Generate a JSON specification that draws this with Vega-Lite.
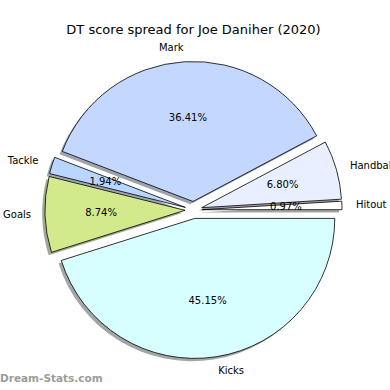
{
  "$schema": "https://vega.github.io/schema/vega-lite/v6.json",
  "autosize": "none",
  "width": 387,
  "height": 360,
  "padding": {"left": 0, "top": 30, "right": 3, "bottom": 0},
  "title": {"text": "DT score spread for Joe Daniher (2020)", "fontSize": 13, "fontWeight": "normal", "font": "DejaVu Sans", "color": "#000000", "offset": -7},
  "config": {"view": {"stroke": null}, "text": {"font": "DejaVu Sans"}},
  "datasets": {
    "slices": [
      {"idx": 1, "cat": "Kicks", "share": 0.4515},
      {"idx": 2, "cat": "Goals", "share": 0.0874},
      {"idx": 3, "cat": "Tackle", "share": 0.0194},
      {"idx": 4, "cat": "Mark", "share": 0.3641},
      {"idx": 5, "cat": "Handball", "share": 0.0680},
      {"idx": 6, "cat": "Hitout", "share": 0.0097}
    ],
    "mark": [{"t": "Dream-Stats.com"}]
  },
  "data": {"name": "slices"},
  "encoding": {
    "theta": {"field": "share", "type": "quantitative", "stack": true, "scale": {"range": [1.5707963, 7.8539816]}},
    "order": {"field": "idx", "type": "quantitative"}
  },
  "layer": [
    {"mark": {"type": "arc", "radius": 140, "xOffset": -1.5, "yOffset": 11.2, "fill": "#a2a6a6", "strokeWidth": 0}, "encoding": {"opacity": {"condition": {"test": "datum.cat === 'Kicks'", "value": 1}, "value": 0}}},
    {"mark": {"type": "arc", "radius": 140, "xOffset": -11.3, "yOffset": 3.1, "fill": "#a2a892", "strokeWidth": 0}, "encoding": {"opacity": {"condition": {"test": "datum.cat === 'Goals'", "value": 1}, "value": 0}}},
    {"mark": {"type": "arc", "radius": 140, "xOffset": -10.9, "yOffset": 0.2, "fill": "#9ca4ae", "strokeWidth": 0}, "encoding": {"opacity": {"condition": {"test": "datum.cat === 'Tackle'", "value": 1}, "value": 0}}},
    {"mark": {"type": "arc", "radius": 140, "xOffset": -3.3, "yOffset": -5.7, "fill": "#9ea4ae", "strokeWidth": 0}, "encoding": {"opacity": {"condition": {"test": "datum.cat === 'Mark'", "value": 1}, "value": 0}}},
    {"mark": {"type": "arc", "radius": 140, "xOffset": 5.4, "yOffset": 0.5, "fill": "#a4a6ac", "strokeWidth": 0}, "encoding": {"opacity": {"condition": {"test": "datum.cat === 'Handball'", "value": 1}, "value": 0}}},
    {"mark": {"type": "arc", "radius": 140, "xOffset": 5.7, "yOffset": 2.5, "fill": "#a6a6a6", "strokeWidth": 0}, "encoding": {"opacity": {"condition": {"test": "datum.cat === 'Hitout'", "value": 1}, "value": 0}}},

    {"mark": {"type": "arc", "radius": 140, "xOffset": 1.3, "yOffset": 8.4, "stroke": "#000000", "strokeWidth": 0.8}, "encoding": {"fill": {"field": "cat", "type": "nominal", "legend": null, "scale": {"domain": ["Kicks", "Goals", "Tackle", "Mark", "Handball", "Hitout"], "range": ["#d8ffff", "#d2ea8c", "#b8d6ff", "#c4d8ff", "#e8f0ff", "#ffffff"]}}, "opacity": {"condition": {"test": "datum.cat === 'Kicks'", "value": 1}, "value": 0}}},
    {"mark": {"type": "arc", "radius": 140, "xOffset": -8.5, "yOffset": 0.3, "stroke": "#000000", "strokeWidth": 0.8}, "encoding": {"fill": {"field": "cat", "type": "nominal", "legend": null}, "opacity": {"condition": {"test": "datum.cat === 'Goals'", "value": 1}, "value": 0}}},
    {"mark": {"type": "arc", "radius": 140, "xOffset": -8.1, "yOffset": -2.6, "stroke": "#000000", "strokeWidth": 0.8}, "encoding": {"fill": {"field": "cat", "type": "nominal", "legend": null}, "opacity": {"condition": {"test": "datum.cat === 'Tackle'", "value": 1}, "value": 0}}},
    {"mark": {"type": "arc", "radius": 140, "xOffset": -0.5, "yOffset": -8.5, "stroke": "#000000", "strokeWidth": 0.8}, "encoding": {"fill": {"field": "cat", "type": "nominal", "legend": null}, "opacity": {"condition": {"test": "datum.cat === 'Mark'", "value": 1}, "value": 0}}},
    {"mark": {"type": "arc", "radius": 140, "xOffset": 8.2, "yOffset": -2.3, "stroke": "#000000", "strokeWidth": 0.8}, "encoding": {"fill": {"field": "cat", "type": "nominal", "legend": null}, "opacity": {"condition": {"test": "datum.cat === 'Handball'", "value": 1}, "value": 0}}},
    {"mark": {"type": "arc", "radius": 140, "xOffset": 8.5, "yOffset": -0.3, "stroke": "#000000", "strokeWidth": 0.8}, "encoding": {"fill": {"field": "cat", "type": "nominal", "legend": null}, "opacity": {"condition": {"test": "datum.cat === 'Hitout'", "value": 1}, "value": 0}}},

    {"mark": {"type": "text", "radius": 84, "xOffset": 1.3, "yOffset": 8.4, "fontSize": 10, "color": "#000000", "baseline": "middle", "align": "center"}, "encoding": {"text": {"condition": {"test": "datum.cat === 'Kicks'", "field": "share", "format": ".2%"}, "value": ""}}},
    {"mark": {"type": "text", "radius": 84, "xOffset": -8.5, "yOffset": 0.3, "fontSize": 10, "color": "#000000", "baseline": "middle", "align": "center"}, "encoding": {"text": {"condition": {"test": "datum.cat === 'Goals'", "field": "share", "format": ".2%"}, "value": ""}}},
    {"mark": {"type": "text", "radius": 84, "xOffset": -8.1, "yOffset": -2.6, "fontSize": 10, "color": "#000000", "baseline": "middle", "align": "center"}, "encoding": {"text": {"condition": {"test": "datum.cat === 'Tackle'", "field": "share", "format": ".2%"}, "value": ""}}},
    {"mark": {"type": "text", "radius": 84, "xOffset": -0.5, "yOffset": -8.5, "fontSize": 10, "color": "#000000", "baseline": "middle", "align": "center"}, "encoding": {"text": {"condition": {"test": "datum.cat === 'Mark'", "field": "share", "format": ".2%"}, "value": ""}}},
    {"mark": {"type": "text", "radius": 84, "xOffset": 8.2, "yOffset": -2.3, "fontSize": 10, "color": "#000000", "baseline": "middle", "align": "center"}, "encoding": {"text": {"condition": {"test": "datum.cat === 'Handball'", "field": "share", "format": ".2%"}, "value": ""}}},
    {"mark": {"type": "text", "radius": 84, "xOffset": 8.5, "yOffset": -0.3, "fontSize": 10, "color": "#000000", "baseline": "middle", "align": "center"}, "encoding": {"text": {"condition": {"test": "datum.cat === 'Hitout'", "field": "share", "format": ".2%"}, "value": ""}}},

    {"mark": {"type": "text", "radius": 154, "xOffset": 1.3, "yOffset": 8.4, "fontSize": 10, "color": "#000000", "baseline": "middle", "align": "left"}, "encoding": {"text": {"condition": {"test": "datum.cat === 'Kicks'", "field": "cat"}, "value": ""}}},
    {"mark": {"type": "text", "radius": 154, "xOffset": -8.5, "yOffset": 0.3, "fontSize": 10, "color": "#000000", "baseline": "middle", "align": "right"}, "encoding": {"text": {"condition": {"test": "datum.cat === 'Goals'", "field": "cat"}, "value": ""}}},
    {"mark": {"type": "text", "radius": 154, "xOffset": -8.1, "yOffset": -2.6, "fontSize": 10, "color": "#000000", "baseline": "middle", "align": "right"}, "encoding": {"text": {"condition": {"test": "datum.cat === 'Tackle'", "field": "cat"}, "value": ""}}},
    {"mark": {"type": "text", "radius": 154, "xOffset": -0.5, "yOffset": -8.5, "fontSize": 10, "color": "#000000", "baseline": "middle", "align": "right"}, "encoding": {"text": {"condition": {"test": "datum.cat === 'Mark'", "field": "cat"}, "value": ""}}},
    {"mark": {"type": "text", "radius": 154, "xOffset": 8.2, "yOffset": -2.3, "fontSize": 10, "color": "#000000", "baseline": "middle", "align": "left"}, "encoding": {"text": {"condition": {"test": "datum.cat === 'Handball'", "field": "cat"}, "value": ""}}},
    {"mark": {"type": "text", "radius": 154, "xOffset": 8.5, "yOffset": -0.3, "fontSize": 10, "color": "#000000", "baseline": "middle", "align": "left"}, "encoding": {"text": {"condition": {"test": "datum.cat === 'Hitout'", "field": "cat"}, "value": ""}}},

    {"data": {"name": "mark"}, "mark": {"type": "text", "fontSize": 10.5, "fontWeight": "bold", "color": "#9c9c9c", "align": "left", "baseline": "middle"}, "encoding": {"theta": null, "order": null, "text": {"field": "t"}, "x": {"value": 0}, "y": {"value": 349}}}
  ]
}
